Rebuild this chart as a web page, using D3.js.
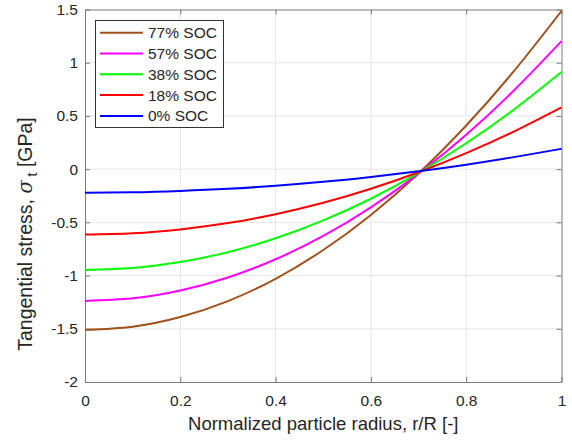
<!DOCTYPE html>
<html><head><meta charset="utf-8">
<script src="https://cdn.jsdelivr.net/npm/d3@7"></script>
<style>body{margin:0;background:#fff}svg{display:block}text{font-family:"Liberation Sans",Arial,sans-serif;fill:#262626}</style>
</head><body><svg id="c" width="572" height="441"></svg>
<script>
const radius = [0,0.1,0.2,0.3,0.4,0.5,0.6,0.7,0.8,0.9,1.0];
const soc77 = [-1.51,-1.48,-1.39,-1.24,-1.03,-0.76,-0.43,-0.04,0.41,0.92,1.486];
const soc57 = [-1.238,-1.214,-1.14,-1.018,-0.847,-0.628,-0.359,-0.042,0.324,0.739,1.203];
const soc38 = [-0.947,-0.928,-0.873,-0.78,-0.65,-0.482,-0.278,-0.036,0.243,0.559,0.912];
const soc18 = [-0.614,-0.602,-0.566,-0.507,-0.423,-0.316,-0.184,-0.029,0.15,0.353,0.58];
const soc0 = [-0.222,-0.218,-0.205,-0.185,-0.156,-0.119,-0.073,-0.02,0.042,0.113,0.191];
const seriesNames = ["77% SOC","57% SOC","38% SOC","18% SOC","0% SOC"];
const seriesColors = ["#a0521c","#ff00ff","#00ff00","#ff0000","#0000ff"];
const xTicks = [0,0.2,0.4,0.6,0.8,1];
const yTicks = [-2,-1.5,-1,-0.5,0,0.5,1,1.5];

const series = [soc77,soc57,soc38,soc18,soc0];
const svg = d3.select("#c");
const L=85,R=561.5,T=9.5,B=382;
const x = d3.scaleLinear().domain([0,1]).range([L,R]);
const y = d3.scaleLinear().domain([-2,1.5]).range([B,T]);

// grid
const g = svg.append("g");
g.selectAll(".gx").data(xTicks.slice(1,-1)).join("line")
 .attr("x1",d=>x(d)).attr("x2",d=>x(d)).attr("y1",T).attr("y2",B)
 .attr("stroke","#e6e6e6").attr("stroke-width",1);
g.selectAll(".gy").data(yTicks.slice(1,-1)).join("line")
 .attr("y1",d=>y(d)).attr("y2",d=>y(d)).attr("x1",L).attr("x2",R)
 .attr("stroke","#e6e6e6").attr("stroke-width",1);

// axes
const fmt = d=>String(d);
const ax = svg.append("g").attr("transform",`translate(0,${B})`)
 .call(d3.axisBottom(x).tickValues(xTicks).tickFormat(fmt).tickSizeInner(-5).tickSizeOuter(0).tickPadding(13));
const ay = svg.append("g").attr("transform",`translate(${L},0)`)
 .call(d3.axisLeft(y).tickValues(yTicks).tickFormat(fmt).tickSizeInner(-5).tickSizeOuter(0).tickPadding(7));
const axT = svg.append("g").attr("transform",`translate(0,${T})`)
 .call(d3.axisTop(x).tickValues(xTicks).tickFormat("").tickSizeInner(-5).tickSizeOuter(0));
const ayR = svg.append("g").attr("transform",`translate(${R},0)`)
 .call(d3.axisRight(y).tickValues(yTicks).tickFormat("").tickSizeInner(-5).tickSizeOuter(0));
[ax,ay,axT,ayR].forEach(a=>{
  a.select(".domain").attr("stroke","#7a7a7a");
  a.selectAll(".tick line").attr("stroke","#7a7a7a");
  a.selectAll("text").attr("font-size",15.5).attr("fill","#262626").attr("font-family","Liberation Sans, Arial, sans-serif");
});

// lines
const line = d3.line().x((d,i)=>x(radius[i])).y(d=>y(d)).curve(d3.curveNatural);
svg.append("g").selectAll("path").data(series).join("path")
 .attr("d",d=>line(d)).attr("fill","none")
 .attr("stroke",(d,i)=>seriesColors[i]).attr("stroke-width",2);

// legend
const lg = svg.append("g");
lg.append("rect").attr("x",95.5).attr("y",20.5).attr("width",128).attr("height",107)
 .attr("fill","#fff").attr("stroke","#333").attr("stroke-width",1);
seriesNames.forEach((n,i)=>{
  const yy = 32.7 + i*20.8;
  lg.append("line").attr("x1",100).attr("x2",143).attr("y1",yy).attr("y2",yy)
    .attr("stroke",seriesColors[i]).attr("stroke-width",2);
  lg.append("text").attr("x",148).attr("y",yy+5.5).attr("font-size",15.5).text(n);
});

// axis labels
svg.append("text").attr("x",(L+R)/2).attr("y",430).attr("text-anchor","middle")
 .attr("font-size",18.5).text("Normalized particle radius, r/R [-]");
const yl = svg.append("text").attr("transform","translate(32,234) rotate(-90)")
 .attr("text-anchor","middle").attr("font-size",19.5);
yl.append("tspan").text("Tangential stress, ");
yl.append("tspan").attr("font-family","DejaVu Serif, serif").attr("font-style","italic").text("σ");
yl.append("tspan").attr("dy",5).attr("font-size",14).text(" t");
yl.append("tspan").attr("dy",-5).text(" [GPa]");
</script></body></html>
